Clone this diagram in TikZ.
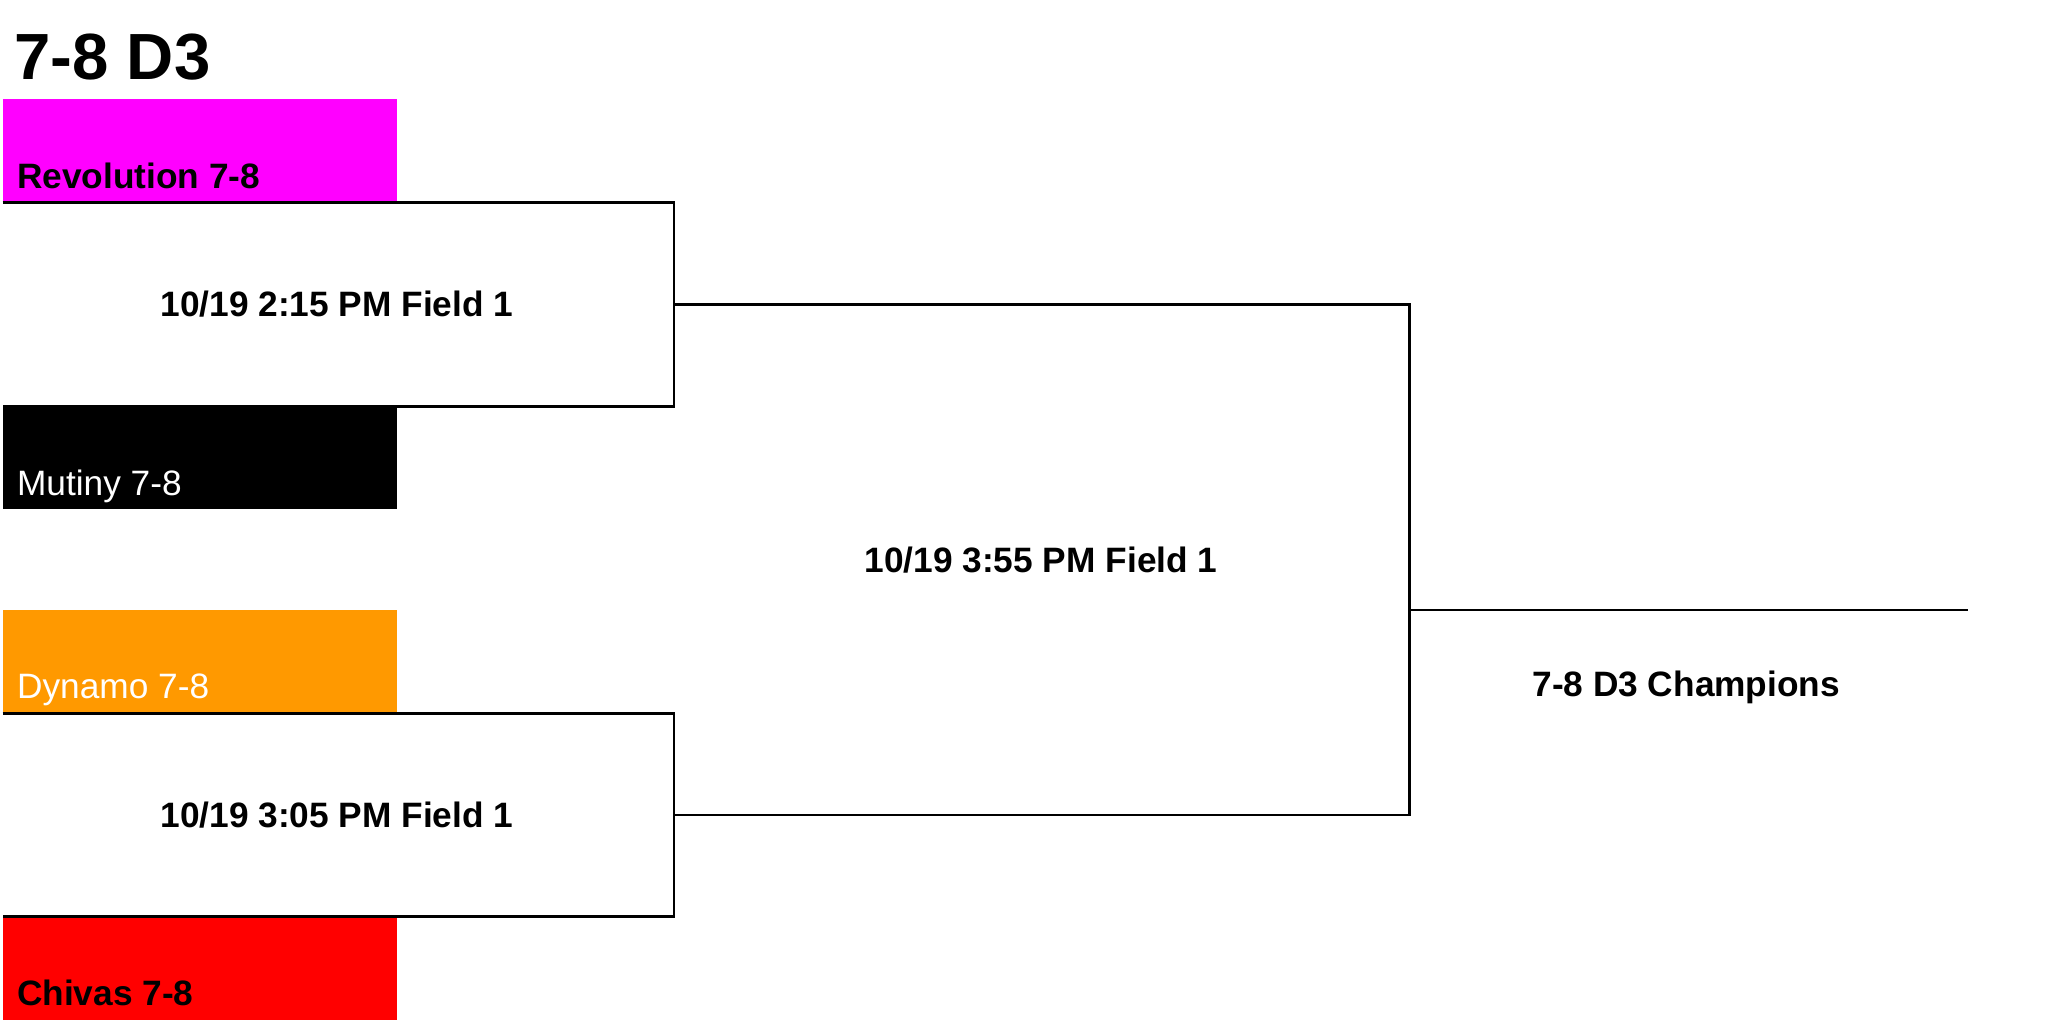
\documentclass[tikz,border=0pt]{standalone}
\usepackage{fontspec}
\setmainfont{Liberation Sans}
\usetikzlibrary{calc}
\definecolor{revolutionpink}{HTML}{FF00FF}
\definecolor{dynamoorange}{HTML}{FF9900}

\begin{document}
\begin{tikzpicture}[
		x=0.5pt, y=-0.5pt,
		line width=1.1pt,
		team/.style={anchor=north west, minimum width=151pt, minimum height=39.5pt, inner sep=0, outer sep=0},
		teamname/.style={anchor=base west, inner sep=0, font=\fontsize{13.5}{16}\selectfont},
		game/.style={inner sep=0, font=\fontsize{13.5}{16}\selectfont\bfseries}
		]
		\useasboundingbox (0,0) rectangle (1568,784);
		\node[anchor=base west, inner sep=0, font=\fontsize{25}{30}\selectfont\bfseries] (title) at (10,61) {7-8 D3};
		
		\node[team, fill=revolutionpink] (revolution) at (2,76) {};
		\node[team, fill=black] (mutiny) at (2,311) {};
		\node[team, fill=dynamoorange] (dynamo) at (2,467) {};
		\node[team, fill=red] (chivas) at (2,702) {};
		
		\node[teamname, font=\fontsize{13.5}{16}\selectfont\bfseries] (revolution-name) at ($(revolution.south west)+(10,-11)$) {Revolution 7-8};
		\node[teamname, text=white] (mutiny-name) at ($(mutiny.south west)+(10,-11)$) {Mutiny 7-8};
		\node[teamname, text=white] (dynamo-name) at ($(dynamo.south west)+(10,-11)$) {Dynamo 7-8};
		\node[teamname, font=\fontsize{13.5}{16}\selectfont\bfseries] (chivas-name) at ($(chivas.south west)+(10,-11)$) {Chivas 7-8};
		
		\coordinate (g1out) at (516,233);
		\coordinate (g2out) at (516,624);
		\coordinate (g3out) at (1079,467);
		\coordinate (champ-end) at (1507,467);
		
		\node[game] (g1) at (258,233) {10/19 2:15 PM Field 1};
		\node[game] (g2) at (258,624) {10/19 3:05 PM Field 1};
		\node[game] (g3) at (797,429) {10/19 3:55 PM Field 1};
		\node[game] (champ) at (1291,526) {7-8 D3 Champions};
		
		\draw (revolution.south west) -| (g1out) |- (mutiny.north west);
		\draw (dynamo.south west) -| (g2out) |- (chivas.north west);
		\draw (g1out) -| (g3out) |- (g2out);
		\draw (g3out) -- (champ-end);
		\end{tikzpicture}
\end{document}
